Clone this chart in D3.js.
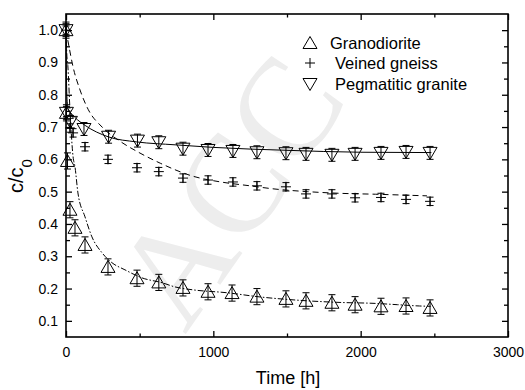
<!DOCTYPE html>
<html>
<head>
<meta charset="utf-8">
<script src="https://cdn.jsdelivr.net/npm/d3@7"></script>
<style>
  body { margin: 0; background: #fff; }
  svg text { font-family: "Liberation Sans", Arial, sans-serif; fill: #000; }
</style>
</head>
<body>
<svg id="chart" width="525" height="390"></svg>
<script>
// measured points (time in h, c/c0)
const granoTime  = [0, 3, 10, 27, 61, 129, 285, 482, 630, 794, 964, 1127, 1296, 1493, 1629, 1805, 1962, 2138, 2308, 2471];
const granoValue = [1.0, 0.744, 0.595, 0.444, 0.388, 0.335, 0.267, 0.232, 0.219, 0.202, 0.190, 0.186, 0.175, 0.168, 0.162, 0.156, 0.150, 0.145, 0.146, 0.140];

const gneissTime  = [0, 27, 48, 129, 285, 482, 630, 794, 964, 1133, 1296, 1493, 1629, 1805, 1962, 2138, 2308, 2471];
const gneissValue = [1.0, 0.697, 0.682, 0.639, 0.600, 0.574, 0.562, 0.542, 0.536, 0.530, 0.518, 0.515, 0.493, 0.493, 0.481, 0.482, 0.476, 0.470];

const pegTime  = [0, 3, 30, 122, 289, 485, 630, 794, 964, 1133, 1296, 1493, 1629, 1805, 1962, 2138, 2308, 2471];
const pegValue = [1.0, 0.744, 0.716, 0.694, 0.670, 0.658, 0.653, 0.633, 0.629, 0.626, 0.622, 0.619, 0.617, 0.614, 0.617, 0.620, 0.623, 0.620];

// error bar half widths
const granoErr = 0.025, gneissErr = 0.013, pegErr = 0.02;

// fitted curves
const granoFitTime  = [0, 5, 13, 27, 48, 61, 81, 129, 176, 244, 312, 400, 516, 652, 740, 862, 1093, 1317, 1541, 1860, 2100, 2250, 2400, 2475];
const granoFitValue = [1.0, 0.93, 0.886, 0.753, 0.608, 0.577, 0.496, 0.422, 0.360, 0.311, 0.280, 0.258, 0.233, 0.218, 0.205, 0.196, 0.187, 0.174, 0.165, 0.157, 0.154, 0.150, 0.146, 0.145];

const gneissFitTime  = [0, 20, 48, 95, 150, 245, 370, 480, 640, 860, 1050, 1250, 1400, 1640, 1850, 2100, 2450];
const gneissFitValue = [1.0, 0.95, 0.886, 0.815, 0.755, 0.700, 0.655, 0.625, 0.588, 0.548, 0.530, 0.518, 0.509, 0.500, 0.495, 0.492, 0.487];

const pegFitTime  = [0, 3, 8, 15, 30, 60, 130, 285, 480, 740, 1000, 1500, 2000, 2480];
const pegFitValue = [1.0, 0.85, 0.78, 0.755, 0.745, 0.73, 0.705, 0.67, 0.654, 0.645, 0.637, 0.628, 0.622, 0.621];

const xMajor = [0, 1000, 2000, 3000];
const xMinor = [500, 1500, 2500];
const yMajor = [0.1, 0.2, 0.3, 0.4, 0.5, 0.6, 0.7, 0.8, 0.9, 1.0];
const yMinor = [0.15, 0.25, 0.35, 0.45, 0.55, 0.65, 0.75, 0.85, 0.95];

const legendLabels = ["Granodiorite", "Veined gneiss", "Pegmatitic granite"];

const box = { left: 66, right: 508, top: 14, bottom: 337 };

const svg = d3.select("#chart");
const x = d3.scaleLinear().domain([0, 3000]).range([box.left, box.right]);
const y = d3.scaleLinear().domain([0.05, 1.05]).range([box.bottom, box.top]);

// faint watermark
svg.append("text")
    .attr("transform", "translate(185,335) rotate(-55)")
    .style("font-family", "'Liberation Serif', serif")
    .style("font-size", "140px")
    .style("fill", "#ededed")
    .text("ACC");

// axes
function styleAxis(g) {
    g.select(".domain").remove();
    g.selectAll(".tick line").attr("stroke", "#000").attr("stroke-width", 1.3);
    g.selectAll(".tick text").style("font-size", "14px");
}

svg.append("g").attr("transform", `translate(0,${box.bottom})`)
    .call(d3.axisBottom(x).tickValues(xMajor).tickSize(-6).tickPadding(10).tickFormat(d3.format("d"))).call(styleAxis);
svg.append("g").attr("transform", `translate(0,${box.bottom})`)
    .call(d3.axisBottom(x).tickValues(xMinor).tickSize(-3.5).tickFormat("")).call(styleAxis);
svg.append("g").attr("transform", `translate(0,${box.top})`)
    .call(d3.axisTop(x).tickValues(xMajor).tickSize(-6).tickFormat("")).call(styleAxis);
svg.append("g").attr("transform", `translate(0,${box.top})`)
    .call(d3.axisTop(x).tickValues(xMinor).tickSize(-3.5).tickFormat("")).call(styleAxis);

svg.append("g").attr("transform", `translate(${box.left},0)`)
    .call(d3.axisLeft(y).tickValues(yMajor).tickSize(-6).tickPadding(8).tickFormat(d3.format(".1f"))).call(styleAxis);
svg.append("g").attr("transform", `translate(${box.left},0)`)
    .call(d3.axisLeft(y).tickValues(yMinor).tickSize(-4).tickFormat("")).call(styleAxis);
svg.append("g").attr("transform", `translate(${box.right},0)`)
    .call(d3.axisRight(y).tickValues(yMajor).tickSize(-6).tickFormat("")).call(styleAxis);
svg.append("g").attr("transform", `translate(${box.right},0)`)
    .call(d3.axisRight(y).tickValues(yMinor).tickSize(-4).tickFormat("")).call(styleAxis);

svg.append("rect")
    .attr("x", box.left).attr("y", box.top)
    .attr("width", box.right - box.left).attr("height", box.bottom - box.top)
    .attr("fill", "none").attr("stroke", "#000").attr("stroke-width", 1.6);

// axis titles
svg.append("text")
    .attr("x", 288).attr("y", 384)
    .attr("text-anchor", "middle")
    .style("font-size", "18px")
    .text("Time [h]");

const yTitle = svg.append("text")
    .attr("transform", "translate(23,176) rotate(-90)")
    .attr("text-anchor", "middle")
    .style("font-size", "20px");
yTitle.append("tspan").text("c/c");
yTitle.append("tspan").attr("baseline-shift", "sub").style("font-size", "15px").text("0");

// fit curves
const line = d3.line().x(d => x(d[0])).y(d => y(d[1])).curve(d3.curveMonotoneX);
const fits = [
    { t: pegFitTime, v: pegFitValue, dash: null },
    { t: gneissFitTime, v: gneissFitValue, dash: "6,4" },
    { t: granoFitTime, v: granoFitValue, dash: "6,2,1.5,2" }
];
fits.forEach(f => {
    svg.append("path")
        .datum(d3.zip(f.t, f.v))
        .attr("d", line)
        .attr("fill", "none").attr("stroke", "#000").attr("stroke-width", 1)
        .attr("stroke-dasharray", f.dash);
});

// markers
const triUp = "M0,-6.5L7,5.5L-7,5.5Z";
const triDown = "M0,6.5L7,-5.5L-7,-5.5Z";
const plus = "M-5,0H5M0,-5V5";

function drawSeries(t, v, err, shape) {
    const g = svg.append("g");
    const pts = g.selectAll("g").data(d3.zip(t, v)).enter().append("g")
        .attr("transform", d => `translate(${x(d[0])},${y(d[1])})`);
    pts.append("path")
        .attr("d", d => {
            const h = y(d[1] - err) - y(d[1]);
            return `M0,${-h}V${h}M-3.5,${-h}H3.5M-3.5,${h}H3.5`;
        })
        .attr("stroke", "#000").attr("stroke-width", 1).attr("fill", "none");
    pts.append("path")
        .attr("d", shape)
        .attr("stroke", "#000").attr("stroke-width", 1).attr("fill", "none");
}

drawSeries(granoTime, granoValue, granoErr, triUp);
drawSeries(gneissTime, gneissValue, gneissErr, plus);
drawSeries(pegTime, pegValue, pegErr, triDown);

// legend
const legendShapes = [triUp, plus, triDown];
const legendRows = [43, 63, 84];
const legendTextX = [330, 335, 335];
legendLabels.forEach((lab, i) => {
    svg.append("path")
        .attr("transform", `translate(310,${legendRows[i]})`)
        .attr("d", legendShapes[i])
        .attr("stroke", "#000").attr("stroke-width", 1).attr("fill", "none");
    svg.append("text")
        .attr("x", legendTextX[i]).attr("y", legendRows[i] + 6)
        .style("font-size", "16.5px")
        .text(lab);
});
</script>
</body>
</html>
